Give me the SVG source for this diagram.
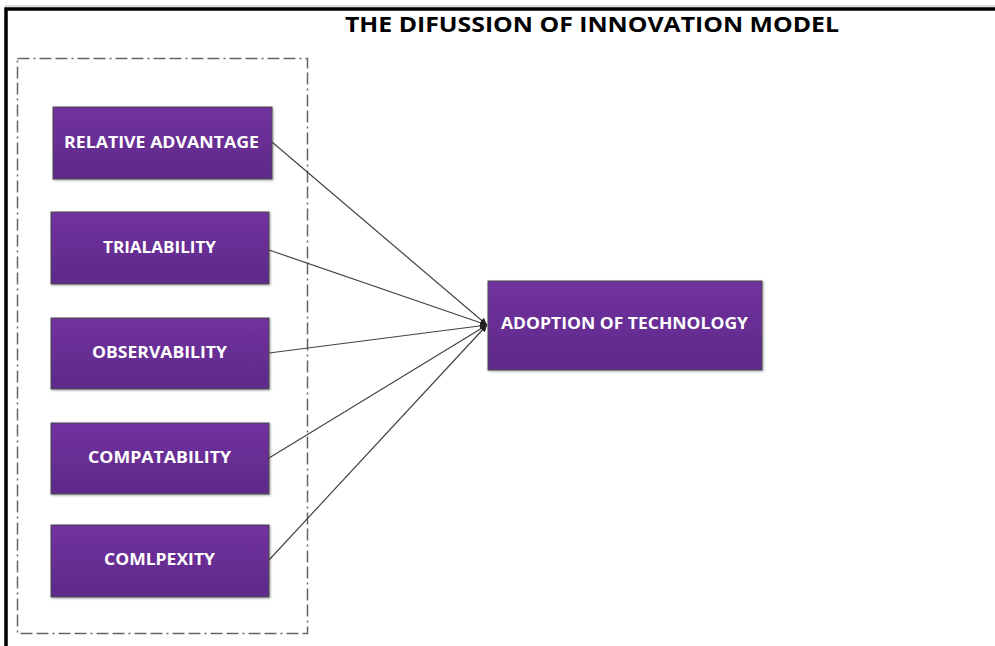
<svg xmlns="http://www.w3.org/2000/svg" width="995" height="646" viewBox="0 0 995 646">
  <defs>
    <linearGradient id="boxFill" x1="0" y1="0" x2="0" y2="1">
      <stop offset="0" stop-color="#7131A0"/>
      <stop offset="1" stop-color="#5E2A88"/>
    </linearGradient>
    <marker id="arrowHead" viewBox="0 0 10 10" refX="10" refY="5" markerWidth="7" markerHeight="7" markerUnits="userSpaceOnUse" orient="auto">
      <path d="M0,0 L10,5 L0,10 z" fill="#222"/>
    </marker>
    <filter id="soft" x="-5%" y="-5%" width="110%" height="110%">
      <feDropShadow dx="1" dy="1" stdDeviation="0.8" flood-color="#000" flood-opacity="0.35"/>
    </filter>
  </defs>
  <style>
    .box { fill: url(#boxFill); stroke: #4a4a4a; stroke-width: 1; filter: url(#soft); }
    .label { font-family: "Open Sans", "Liberation Sans", sans-serif; font-weight: bold; font-size: 16px; fill: #ffffff; text-anchor: middle; dominant-baseline: central; }
    .link { stroke: #444; stroke-width: 1.2; fill: none; marker-end: url(#arrowHead); }
    .title { font-family: "Open Sans", "Liberation Sans", sans-serif; font-weight: bold; font-size: 21px; fill: #000; text-anchor: middle; }
  </style>

  <rect width="995" height="646" fill="#ffffff"/>

  <!-- page frame -->
  <line x1="5" y1="6" x2="995" y2="6" stroke="#bbbbbb" stroke-width="1"/>
  <path d="M6,646 V9 H995" fill="none" stroke="#000" stroke-width="3.5"/>

  <text class="title" x="592" y="32" textLength="494" lengthAdjust="spacingAndGlyphs">THE DIFUSSION OF INNOVATION MODEL</text>

  <!-- grouping frame around the attributes -->
  <rect id="attributes" x="17.5" y="58.5" width="290" height="575" fill="none" stroke="#666" stroke-width="1.5" stroke-dasharray="12,4,2,4,12,4"/>

  <g id="connectors">
    <line class="link" x1="272" y1="142" x2="487" y2="325"/>
    <line class="link" x1="269" y1="250" x2="487" y2="325"/>
    <line class="link" x1="269" y1="353" x2="487" y2="325"/>
    <line class="link" x1="269" y1="458" x2="487" y2="325"/>
    <line class="link" x1="269" y1="560" x2="487" y2="325"/>
  </g>

  <g id="relative-advantage">
    <rect class="box" x="53" y="107" width="219" height="72"/>
    <text class="label" x="161.5" y="142" textLength="195" lengthAdjust="spacingAndGlyphs">RELATIVE ADVANTAGE</text>
  </g>
  <g id="trialability">
    <rect class="box" x="51" y="212" width="218" height="72"/>
    <text class="label" x="159.5" y="247" textLength="113" lengthAdjust="spacingAndGlyphs">TRIALABILITY</text>
  </g>
  <g id="observability">
    <rect class="box" x="51" y="318" width="218" height="71"/>
    <text class="label" x="159.5" y="352" textLength="135" lengthAdjust="spacingAndGlyphs">OBSERVABILITY</text>
  </g>
  <g id="compatability">
    <rect class="box" x="51" y="423" width="218" height="71"/>
    <text class="label" x="159.5" y="457" textLength="143" lengthAdjust="spacingAndGlyphs">COMPATABILITY</text>
  </g>
  <g id="complexity">
    <rect class="box" x="51" y="525" width="218" height="72"/>
    <text class="label" x="159.5" y="559" textLength="111" lengthAdjust="spacingAndGlyphs">COMLPEXITY</text>
  </g>
  <g id="adoption">
    <rect class="box" x="488" y="281" width="274" height="89"/>
    <text class="label" x="624.5" y="323" textLength="247" lengthAdjust="spacingAndGlyphs">ADOPTION OF TECHNOLOGY</text>
  </g>
</svg>
